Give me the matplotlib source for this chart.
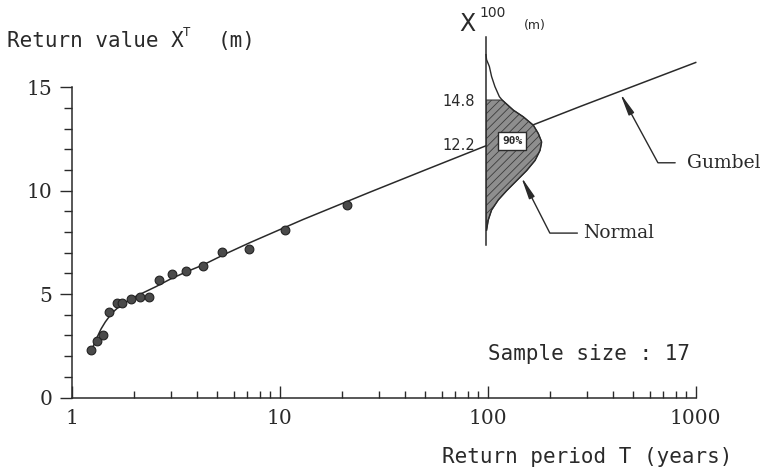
import matplotlib.pyplot as plt
import numpy as np
from matplotlib.ticker import LogLocator, MultipleLocator, NullFormatter

# observed maxima at their plotting return periods (years, metres)
sample_T = [1.24, 1.32, 1.41, 1.51, 1.65, 1.75, 1.93, 2.12, 2.35, 2.64, 3.04, 3.54, 4.26, 5.29, 7.10, 10.6, 21.0]
sample_X = [2.31, 2.73, 3.02, 4.13, 4.59, 4.59, 4.74, 4.85, 4.87, 5.66, 5.99, 6.11, 6.35, 7.03, 7.17, 8.09, 9.31]
sample_size = 17

# fitted Gumbel curve
gumbel_T = [1.26, 1.33, 1.385, 1.45, 1.52, 1.60, 1.70, 1.85, 2.04, 2.54, 3.0, 3.6, 4.26, 5.5, 7.16,
            12.9, 27.0, 50.0, 98.0, 165.0, 278.0, 1000.0]
gumbel_X = [2.40, 2.95, 3.32, 3.65, 3.93, 4.18, 4.42, 4.65, 4.90, 5.36, 5.74, 6.10, 6.40, 6.95, 7.48,
            8.60, 9.92, 11.0, 12.17, 13.18, 14.07, 16.2]

# distribution of X100 drawn at T = 100 (level in m, relative density)
x100_level = [17.5, 17.2, 16.8, 16.2, 15.6, 15.0, 14.8, 14.2, 13.8, 13.3, 12.8, 12.3, 11.8, 11.2,
              10.6, 10.0, 9.4, 8.85, 8.25, 7.65, 7.05]
x100_density = [0.0, 0.01, 0.06, 0.10, 0.16, 0.24, 0.29, 0.49, 0.67, 0.85, 0.94, 1.0, 0.97, 0.88,
                0.73, 0.55, 0.37, 0.22, 0.10, 0.04, 0.01]
x100_mean = 12.2
x100_upper = 14.8
x100_prob = "90%"

W, H = 763, 471
INK = "#2a2a2a"
MONO = "DejaVu Sans Mono"
SERIF = "DejaVu Serif"
SANS = "DejaVu Sans"


def fx(px):
    return px / W


def fy(py):
    return 1 - py / H


plt.rcParams["hatch.linewidth"] = 0.6

fig = plt.figure(figsize=(W / 100, H / 100), dpi=100)
fig.patch.set_facecolor("white")

ax = fig.add_axes([fx(71.7), fy(397.5), (695.7 - 71.7) / W, (397.5 - 87.3) / H])
ax.set_xscale("log")
ax.set_xlim(1, 1000)
ax.set_ylim(0, 15)
ax.patch.set_visible(False)

for side in ("top", "right"):
    ax.spines[side].set_visible(False)
for side in ("left", "bottom"):
    ax.spines[side].set_color(INK)
    ax.spines[side].set_linewidth(1.1)

ax.set_xticks([1, 10, 100, 1000])
ax.set_xticklabels(["1", "10", "100", "1000"], fontfamily=SERIF, fontsize=14.5, color=INK)
ax.xaxis.set_minor_locator(LogLocator(base=10, subs=np.arange(2, 10), numticks=20))
ax.xaxis.set_minor_formatter(NullFormatter())
ax.set_yticks([0, 5, 10, 15])
ax.set_yticklabels(["0", "5", "10", "15"], fontfamily=SERIF, fontsize=14.5, color=INK)
ax.yaxis.set_minor_locator(MultipleLocator(1))

ax.tick_params(axis="x", which="major", direction="in", length=8.6, width=1, pad=8.5, color=INK)
ax.tick_params(axis="x", which="minor", direction="in", length=5.2, width=1, color=INK)
ax.tick_params(axis="y", which="major", direction="out", length=8.6, width=1, pad=5.5, color=INK)
ax.tick_params(axis="y", which="minor", direction="out", length=5.6, width=1, color=INK)

ax.plot(gumbel_T, gumbel_X, color=INK, lw=1.1, clip_on=False, zorder=2)
ax.plot(sample_T, sample_X, "o", ms=6.3, color="#4a4a4a", mec="#222222", mew=0.8, zorder=3)

ax.text(939, 2.1, f"Sample size : {sample_size}", ha="right", va="center",
        fontfamily=MONO, fontsize=15, color=INK)

ax.annotate("Gumbel", xy=(433, 14.72), xytext=(908, 11.35), textcoords="data",
            ha="left", va="center", fontfamily=SERIF, fontsize=13.5, color=INK,
            arrowprops=dict(arrowstyle="-|>,head_length=1.1,head_width=0.15", color=INK, lw=1,
                            connectionstyle="angle,angleA=0,angleB=-61.5,rad=0",
                            relpos=(0, 0.5), shrinkA=6.5, shrinkB=0, mutation_scale=12))

# axis titles
fig.text(fx(7), fy(46.7), "Return value X", ha="left", va="baseline", fontfamily=MONO, fontsize=15, color=INK)
fig.text(fx(183), fy(35.5), "T", ha="left", va="baseline", fontfamily=MONO, fontsize=9, color=INK)
fig.text(fx(218), fy(46.7), "(m)", ha="left", va="baseline", fontfamily=MONO, fontsize=15, color=INK)
fig.text(fx(732), fy(463), "Return period T (years)", ha="right", va="baseline",
         fontfamily=MONO, fontsize=15, color=INK)

# inset: distribution of the 100-year value
ax_in = fig.add_axes([fx(486), fy(245), 55.7 / W, (245 - 36.7) / H])
ax_in.set_xlim(0, 1)
ax_in.set_ylim(x100_mean - (245 - 143.7) / 16.8, x100_mean + (143.7 - 36.7) / 16.8)
ax_in.patch.set_visible(False)
for side in ("top", "right", "bottom"):
    ax_in.spines[side].set_visible(False)
ax_in.spines["left"].set_color(INK)
ax_in.spines["left"].set_linewidth(1.1)
ax_in.set_xticks([])
ax_in.set_yticks([x100_mean, x100_upper])
ax_in.set_yticklabels([f"{x100_mean}", f"{x100_upper}"], fontfamily=SANS, fontsize=10.5, color=INK)
ax_in.tick_params(axis="y", length=0, pad=8)

level = np.array(x100_level)
dens = np.array(x100_density)
ax_in.fill_betweenx(level, 0, dens, where=level <= x100_upper, facecolor="#8e8e8e",
                    hatch="////", edgecolor="#3c3c3c", linewidth=0.8, zorder=2)
ax_in.plot(dens, level, color=INK, lw=1, clip_on=False, zorder=3)
ax_in.text(0.475, 12.36, x100_prob, ha="center", va="center", fontfamily=MONO, fontsize=8,
           fontweight="bold", color=INK, zorder=4,
           bbox=dict(boxstyle="square,pad=0.35", fc="white", ec=INK, lw=1))

ax_in.annotate("Normal", xy=(0.63, 10.24), xytext=(287, 7.95), textcoords=ax.transData,
               ha="left", va="center", fontfamily=SERIF, fontsize=13.5, color=INK,
               arrowprops=dict(arrowstyle="-|>,head_length=1.1,head_width=0.15", color=INK, lw=1,
                               connectionstyle="angle,angleA=0,angleB=-63,rad=0",
                               relpos=(0, 0.5), shrinkA=2, shrinkB=0, mutation_scale=12))

fig.text(fx(467.5), fy(24), "X", ha="center", va="center", fontfamily=SANS, fontsize=17, color=INK)
fig.text(fx(492.5), fy(13), "100", ha="center", va="center", fontfamily=SANS, fontsize=10, color=INK)
fig.text(fx(535), fy(26), "(m)", ha="center", va="center", fontfamily=SANS, fontsize=9, color=INK)

fig.savefig("out.png", dpi=100)
